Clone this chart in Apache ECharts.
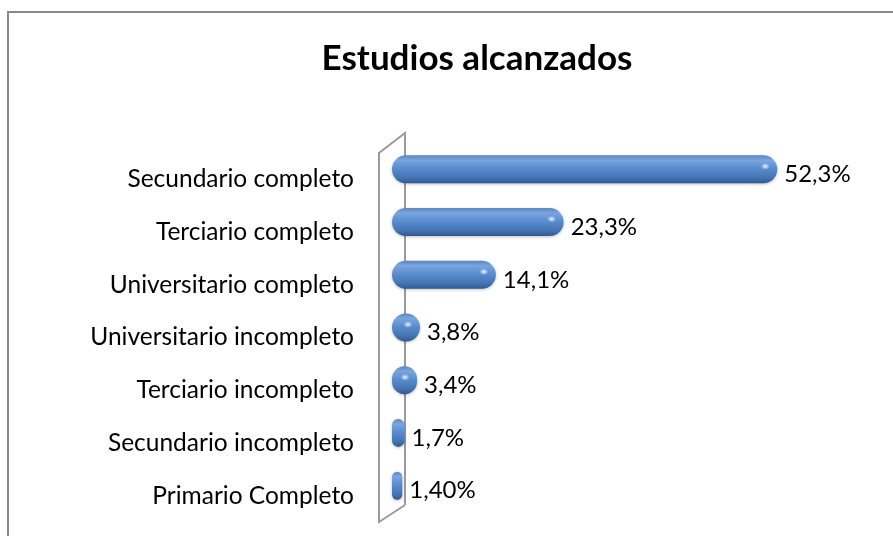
<!DOCTYPE html>
<html>
<head>
<meta charset="utf-8">
<script src="https://cdn.jsdelivr.net/npm/echarts@6/dist/echarts.min.js"></script>
<style>
  html, body { margin: 0; padding: 0; background: #fff; }
  #chart { width: 893px; height: 536px; }
</style>
</head>
<body>
<div id="chart"></div>
<script>
// categories top to bottom
const categories = [
  'Secundario completo',
  'Terciario completo',
  'Universitario completo',
  'Universitario incompleto',
  'Terciario incompleto',
  'Secundario incompleto',
  'Primario Completo'
]
const values = [52.3, 23.3, 14.1, 3.8, 3.4, 1.7, 1.4]
const valueLabels = ['52,3%', '23,3%', '14,1%', '3,8%', '3,4%', '1,7%', '1,40%']

const chart = echarts.init(document.getElementById('chart'))

const FONT = 'Lato'

const barColor = {
  type: 'linear', x: 0, y: 0, x2: 0, y2: 1,
  colorStops: [
    { offset: 0, color: '#5b87c2' },
    { offset: 0.18, color: '#7aa5de' },
    { offset: 0.45, color: '#5a8ed0' },
    { offset: 0.8, color: '#4574b3' },
    { offset: 1, color: '#2f5a92' }
  ]
}

const option = {
  animation: false,
  title: {
    text: 'Estudios alcanzados',
    left: 472,
    textAlign: 'center',
    top: 36,
    textStyle: { fontFamily: FONT, fontWeight: 'bold', fontSize: 35, color: '#000' }
  },
  // grid 0 holds the bars, grid 1 (shifted down a bit) only the category labels
  grid: [
    { left: 392, right: 59, top: 143, bottom: 24, containLabel: false },
    { left: 392, right: 59, top: 153, bottom: 14, containLabel: false }
  ],
  xAxis: [
    { type: 'value', min: 0, max: 60, show: false, gridIndex: 0 },
    { type: 'value', min: 0, max: 60, show: false, gridIndex: 1 }
  ],
  yAxis: [
    {
      type: 'category',
      gridIndex: 0,
      inverse: true,
      data: categories,
      show: false
    },
    {
      type: 'category',
      gridIndex: 1,
      inverse: true,
      data: categories,
      axisLine: { show: false },
      axisTick: { show: false },
      splitLine: { show: false },
      axisLabel: {
        margin: 38,
        color: '#000',
        fontFamily: FONT,
        fontSize: 24.5
      }
    }
  ],
  graphic: [
    // chart frame
    {
      type: 'rect', silent: true, z: -10,
      shape: { x: 8, y: 12, width: 1000, height: 600 },
      style: { fill: 'none', stroke: '#888', lineWidth: 2 }
    },
    // axis wall
    {
      type: 'polyline', silent: true, z: -5,
      shape: { points: [[405, 505], [405, 133], [379, 153], [379, 522], [405, 505]] },
      style: { fill: 'none', stroke: '#9a9a9a', lineWidth: 2 }
    }
  ],
  series: [
    {
      type: 'bar',
      data: values,
      barWidth: 28,
      itemStyle: {
        color: barColor,
        borderRadius: 14,
        shadowColor: 'rgba(0,0,0,0.25)',
        shadowBlur: 3,
        shadowOffsetY: 1
      },
      label: {
        show: true,
        position: 'right',
        distance: 7,
        offset: [0, 5],
        color: '#000',
        fontFamily: FONT,
        fontSize: 24,
        formatter: (p) => valueLabels[p.dataIndex]
      }
    },
    {
      // specular highlight near each bar's end (only where the bar is wide enough)
      type: 'scatter',
      data: values.map((v, i) => ({ value: [v, i], itemStyle: { opacity: v < 3 ? 0 : 1 } })),
      symbol: 'circle',
      symbolSize: [8, 6],
      symbolOffset: [-12, -3],
      silent: true,
      z: 5,
      itemStyle: {
        color: {
          type: 'radial', x: 0.5, y: 0.5, r: 0.5,
          colorStops: [
            { offset: 0, color: 'rgba(255,255,255,0.95)' },
            { offset: 1, color: 'rgba(200,225,255,0.2)' }
          ]
        }
      }
    }
  ]
}

chart.setOption(option)
</script>
</body>
</html>
